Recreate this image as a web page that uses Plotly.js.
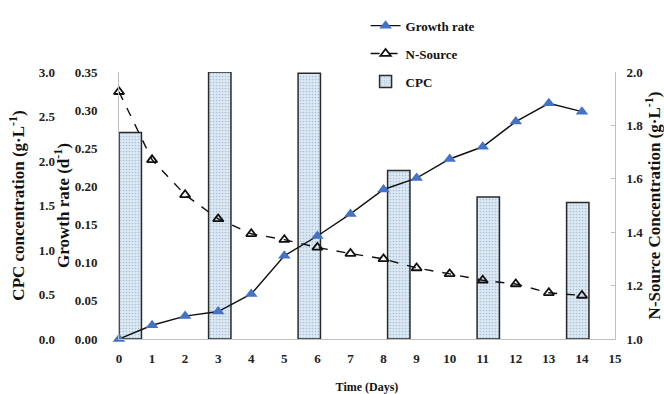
<!DOCTYPE html>
<html>
<head>
<meta charset="utf-8">
<script src="https://cdn.plot.ly/plotly-3.0.1.min.js"></script>
<style>html,body{margin:0;padding:0;background:#fff;}#chart{width:664px;height:394px;}</style>
</head>
<body>
<div id="chart"></div>
<script>
// Data
const days = [0,1,2,3,4,5,6,7,8,9,10,11,12,13,14];
const growthRate = [0.000,0.018,0.030,0.036,0.059,0.109,0.135,0.164,0.196,0.211,0.236,0.252,0.285,0.309,0.298];
const nSource = [1.926,1.671,1.540,1.450,1.394,1.372,1.343,1.320,1.300,1.266,1.244,1.220,1.206,1.173,1.163];
const cpcSamples = ["0","3","6","8","11","14"];
const cpcValues = [2.32,3.00,2.985,1.894,1.596,1.533];
const xTicks = [0,1,2,3,4,5,6,7,8,9,10,11,12,13,14,15];

const serif = "Liberation Serif, Times New Roman, serif";
const tickFont = {family: serif, size: 13, color: "#222", weight: "bold"};
const titleFont = {family: serif, size: 17, color: "#111", weight: "bold"};
const axisGray = "#bfbfbf";

const traces = [
  {
    type: "bar", name: "CPC", x: cpcSamples, y: cpcValues,
    xaxis: "x", yaxis: "y", width: 0.25,
    marker: {color: "#dce9f4", line: {color: "#2a2a2a", width: 1.5},
             pattern: {shape: ".", fgcolor: "#a9c2d6", bgcolor: "#dde9f4", size: 3, solidity: 0.25}},
    legendrank: 3, legendgroup: "c"
  },
  {
    type: "scatter", mode: "lines+markers", name: "Growth rate", x: days, y: growthRate,
    xaxis: "x2", yaxis: "y2", cliponaxis: false,
    line: {color: "#111", width: 1.4},
    marker: {symbol: "triangle-up", size: 11, color: "#4472c4", line: {width: 0}},
    legendrank: 1, legendgroup: "a"
  },
  {
    type: "scatter", mode: "lines+markers", name: "N-Source", x: days, y: nSource,
    xaxis: "x2", yaxis: "y3", cliponaxis: false,
    line: {color: "#111", width: 1.4, dash: "dash"},
    marker: {symbol: "triangle-up-open", size: 9, color: "#111", line: {width: 1.8, color: "#111"}},
    legendrank: 2, legendgroup: "b"
  }
];

const dom = [0.1111, 1];
const layout = {
  width: 664, height: 394,
  margin: {l: 57, r: 49, t: 71, b: 55},
  paper_bgcolor: "#fff", plot_bgcolor: "rgba(0,0,0,0)",
  showlegend: true,
  legend: {x: 0.553, y: 1.225, xanchor: "left", yanchor: "top", font: {family: serif, size: 13, color: "#111", weight: "bold"},
           traceorder: "grouped", tracegroupgap: 8, bgcolor: "rgba(0,0,0,0)"},
  bargap: 0,
  xaxis: {type: "category", domain: dom, range: [-0.126, 5.416], visible: false, anchor: "y", fixedrange: true},
  xaxis2: {overlaying: "x", domain: dom, anchor: "y", side: "bottom", range: [0, 15], tickmode: "array", tickvals: xTicks,
           showline: true, linecolor: axisGray, linewidth: 1, ticks: "", showgrid: false, zeroline: false,
           tickfont: tickFont, ticklabelstandoff: 7,
           title: {text: "Time (Days)", font: {family: serif, size: 12, color: "#111", weight: "bold"}, standoff: 18}},
  yaxis: {anchor: "free", position: 0, side: "left", range: [0, 3], dtick: 0.5, tickformat: ".1f",
          showline: false, ticks: "", showgrid: false, zeroline: false, tickfont: tickFont, ticklabelstandoff: 2,
          title: {text: "CPC concentration (g·L<sup>-1</sup>)", font: titleFont, standoff: 8}},
  yaxis2: {overlaying: "y", anchor: "x", side: "left", range: [0, 0.35], dtick: 0.05, tickformat: ".2f",
           showline: true, linecolor: axisGray, linewidth: 1, ticks: "", showgrid: false, zeroline: false,
           tickfont: tickFont, ticklabelstandoff: 18,
           title: {text: "Growth rate (d<sup>-1</sup>)", font: titleFont, standoff: 0}},
  yaxis3: {overlaying: "y", anchor: "x", side: "right", range: [1, 2], dtick: 0.2, tickformat: ".1f",
           showline: true, linecolor: axisGray, linewidth: 1, ticks: "inside", ticklen: 4, tickcolor: axisGray,
           showgrid: false, zeroline: false, tickfont: tickFont, ticklabelstandoff: 8,
           title: {text: "N-Source Concentration (g·L<sup>-1</sup>)", font: titleFont, standoff: 12}}
};

Plotly.newPlot("chart", traces, layout, {displayModeBar: false, staticPlot: true});
</script>
</body>
</html>
